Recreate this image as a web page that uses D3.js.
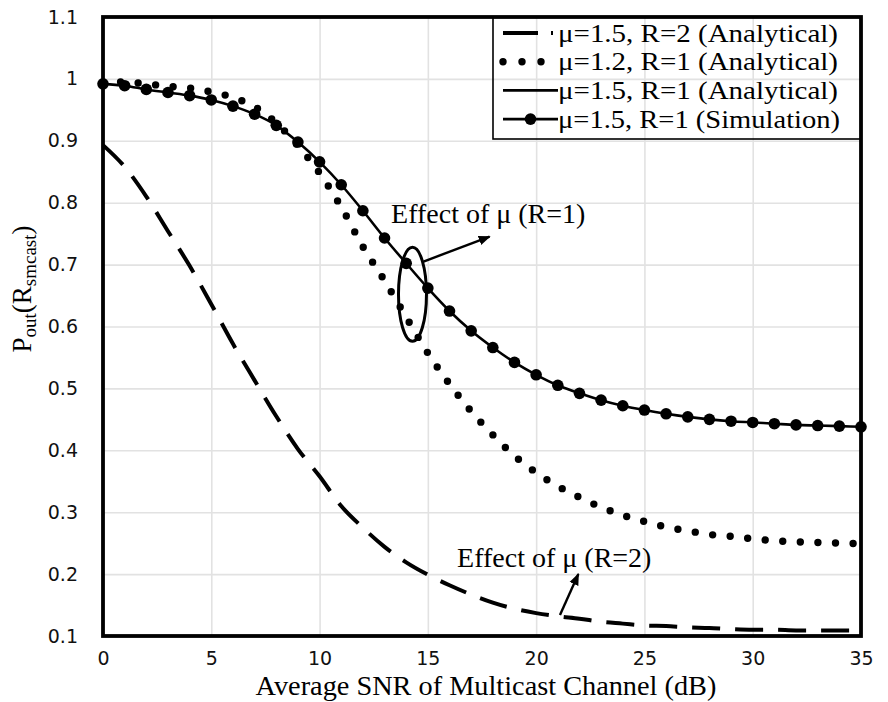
<!DOCTYPE html>
<html>
<head>
<meta charset="utf-8">
<script src="https://cdn.jsdelivr.net/npm/d3@7"></script>
<style>
  html, body { margin: 0; padding: 0; background: #fff; }
  svg { display: block; }
</style>
</head>
<body>
<svg id="chart" width="888" height="702"></svg>
<script>
// Average SNR of the multicast channel (dB)
const snr = d3.range(0, 36);

// μ = 1.5, R = 2 (analytical)
const mu15R2 = [0.893, 0.858, 0.810, 0.754, 0.698, 0.636, 0.572, 0.513, 0.455, 0.402,
                0.358, 0.310, 0.275, 0.244, 0.219, 0.199, 0.182, 0.167, 0.154, 0.144,
                0.137, 0.132, 0.128, 0.123, 0.120, 0.117, 0.116, 0.114, 0.113, 0.111,
                0.110, 0.110, 0.109, 0.109, 0.109, 0.109];

// μ = 1.2, R = 1 (analytical)
const mu12R1 = [0.993, 0.995, 0.992, 0.988, 0.985, 0.979, 0.970, 0.955, 0.929, 0.892,
                0.848, 0.793, 0.729, 0.674, 0.615, 0.557, 0.507, 0.463, 0.425, 0.391,
                0.364, 0.342, 0.324, 0.308, 0.295, 0.285, 0.276, 0.270, 0.264, 0.261,
                0.257, 0.254, 0.252, 0.251, 0.250, 0.249];

// μ = 1.5, R = 1 (analytical)
const mu15R1 = [0.992, 0.989, 0.983, 0.978, 0.973, 0.966, 0.956, 0.943, 0.925, 0.898,
                0.866, 0.829, 0.787, 0.743, 0.702, 0.662, 0.625, 0.593, 0.566, 0.542,
                0.522, 0.505, 0.492, 0.481, 0.472, 0.465, 0.459, 0.454, 0.450, 0.447,
                0.445, 0.443, 0.441, 0.440, 0.439, 0.438];

// μ = 1.5, R = 1 (simulation)
const mu15R1Sim = [0.992, 0.989, 0.983, 0.978, 0.973, 0.966, 0.956, 0.943, 0.925, 0.898,
                   0.866, 0.829, 0.787, 0.743, 0.702, 0.662, 0.625, 0.593, 0.566, 0.542,
                   0.522, 0.505, 0.492, 0.481, 0.472, 0.465, 0.459, 0.454, 0.450, 0.447,
                   0.445, 0.443, 0.441, 0.440, 0.439, 0.438];

const xTicks = [0, 5, 10, 15, 20, 25, 30, 35];
const yTicks = [0.1, 0.2, 0.3, 0.4, 0.5, 0.6, 0.7, 0.8, 0.9, 1.0, 1.1];

const legendLabels = [
  "μ=1.5, R=2 (Analytical)",
  "μ=1.2, R=1 (Analytical)",
  "μ=1.5, R=1 (Analytical)",
  "μ=1.5, R=1 (Simulation)"
];

const xTitle = "Average SNR of Multicast Channel (dB)";
const noteR1 = "Effect of μ (R=1)";
const noteR2 = "Effect of μ (R=2)";

// ---- layout ----
const plot = { left: 103, right: 861, top: 17, bottom: 636 };
const serif = "'Liberation Serif', 'Times New Roman', serif";
const sans = "'DejaVu Sans', Verdana, sans-serif";

const svg = d3.select("#chart");

const x = d3.scaleLinear().domain([0, 35]).range([plot.left, plot.right]);
const y = d3.scaleLinear().domain([0.1, 1.1]).range([plot.bottom, plot.top]);

// arrowhead
svg.append("defs").append("marker")
  .attr("id", "arrow")
  .attr("viewBox", "0 0 10 10")
  .attr("refX", 9).attr("refY", 5)
  .attr("markerWidth", 5).attr("markerHeight", 5)
  .attr("markerUnits", "strokeWidth")
  .attr("orient", "auto")
  .append("path").attr("d", "M0,1 L10,5 L0,9 Z").attr("fill", "#000");

// ---- gridlines ----
const grid = svg.append("g").attr("class", "grid");
grid.append("g")
  .attr("transform", `translate(0,${plot.bottom})`)
  .call(d3.axisBottom(x).tickValues(xTicks).tickSize(-(plot.bottom - plot.top)).tickFormat(""))
  .call(g => g.select(".domain").remove())
  .call(g => g.selectAll("line").attr("stroke", "#e2e2e2").attr("stroke-width", 1.6));
grid.append("g")
  .attr("transform", `translate(${plot.left},0)`)
  .call(d3.axisLeft(y).tickValues(yTicks).tickSize(-(plot.right - plot.left)).tickFormat(""))
  .call(g => g.select(".domain").remove())
  .call(g => g.selectAll("line").attr("stroke", "#e2e2e2").attr("stroke-width", 1.6));

// ---- tick labels ----
svg.append("g")
  .attr("transform", `translate(0,${plot.bottom})`)
  .call(d3.axisBottom(x).tickValues(xTicks).tickSize(0).tickPadding(16).tickFormat(d3.format("d")))
  .call(g => g.select(".domain").remove())
  .call(g => g.selectAll("text").attr("font-family", sans).attr("font-size", 19).attr("fill", "#111"));

svg.append("g")
  .attr("transform", `translate(${plot.left},0)`)
  .call(d3.axisLeft(y).tickValues(yTicks).tickSize(0).tickPadding(25).tickFormat(d => String(+d.toFixed(1))))
  .call(g => g.select(".domain").remove())
  .call(g => g.selectAll("text").attr("font-family", sans).attr("font-size", 19).attr("fill", "#111"));

// ---- series ----
const line = vals => d3.line()
  .x((d, i) => x(snr[i]))
  .y(d => y(d))
  .curve(d3.curveMonotoneX)(vals);

const series = svg.append("g");

series.append("path")
  .attr("d", line(mu15R2))
  .attr("fill", "none").attr("stroke", "#000")
  .attr("stroke-width", 4).attr("stroke-dasharray", "28,15");

series.append("path")
  .attr("d", line(mu12R1))
  .attr("fill", "none").attr("stroke", "#000")
  .attr("stroke-width", 7.4).attr("stroke-linecap", "round")
  .attr("stroke-dasharray", "0,17.6");

series.append("path")
  .attr("d", line(mu15R1))
  .attr("fill", "none").attr("stroke", "#000").attr("stroke-width", 2.6);

series.selectAll("circle.sim")
  .data(mu15R1Sim)
  .join("circle")
  .attr("class", "sim")
  .attr("cx", (d, i) => x(snr[i]))
  .attr("cy", d => y(d))
  .attr("r", 5.8)
  .attr("fill", "#000");

// ---- plot frame ----
svg.append("rect")
  .attr("x", plot.left).attr("y", plot.top)
  .attr("width", plot.right - plot.left).attr("height", plot.bottom - plot.top)
  .attr("fill", "none").attr("stroke", "#000").attr("stroke-width", 3.8);

// ---- annotations ----
const ann = svg.append("g");
// μ effect at R = 1: ellipse around the two curves near 14 dB
ann.append("ellipse")
  .attr("cx", x(14.29)).attr("cy", y(0.652))
  .attr("rx", 14).attr("ry", 47)
  .attr("fill", "none").attr("stroke", "#000").attr("stroke-width", 3);
ann.append("line")
  .attr("x1", x(14.8)).attr("y1", y(0.705))
  .attr("x2", x(17.85)).attr("y2", y(0.745))
  .attr("stroke", "#000").attr("stroke-width", 2.4)
  .attr("marker-end", "url(#arrow)");
ann.append("text")
  .attr("x", x(13.3)).attr("y", y(0.768))
  .attr("font-family", serif).attr("font-size", 28)
  .text(noteR1);

// μ effect at R = 2
ann.append("line")
  .attr("x1", x(21.1)).attr("y1", y(0.134))
  .attr("x2", x(21.95)).attr("y2", y(0.2))
  .attr("stroke", "#000").attr("stroke-width", 2.4)
  .attr("marker-end", "url(#arrow)");
ann.append("text")
  .attr("x", x(16.35)).attr("y", y(0.212))
  .attr("font-family", serif).attr("font-size", 28)
  .text(noteR2);

// ---- legend ----
const lg = svg.append("g");
const lgBox = { x0: 493, y0: plot.top, x1: plot.right, y1: 139 };
lg.append("rect")
  .attr("x", lgBox.x0).attr("y", lgBox.y0)
  .attr("width", lgBox.x1 - lgBox.x0).attr("height", lgBox.y1 - lgBox.y0)
  .attr("fill", "none").attr("stroke", "#000").attr("stroke-width", 1.6);

const rowY = i => 33 + i * 28.7;
const sx0 = 503, sx1 = 558;

lg.append("line").attr("x1", sx0).attr("x2", sx1 - 5).attr("y1", rowY(0)).attr("y2", rowY(0))
  .attr("stroke", "#000").attr("stroke-width", 4).attr("stroke-dasharray", "35,13");
lg.append("line").attr("x1", sx0).attr("x2", sx1 - 12).attr("y1", rowY(1)).attr("y2", rowY(1))
  .attr("stroke", "#000").attr("stroke-width", 7.4).attr("stroke-linecap", "round")
  .attr("stroke-dasharray", "0,19");
lg.append("line").attr("x1", sx0).attr("x2", sx1).attr("y1", rowY(2)).attr("y2", rowY(2))
  .attr("stroke", "#000").attr("stroke-width", 2.6);
lg.append("line").attr("x1", sx0).attr("x2", sx1).attr("y1", rowY(3)).attr("y2", rowY(3))
  .attr("stroke", "#000").attr("stroke-width", 2.6);
lg.append("circle").attr("cx", (sx0 + sx1) / 2).attr("cy", rowY(3)).attr("r", 5.8).attr("fill", "#000");

// legend labels: slightly condensed height, widened to the box width
lg.selectAll("text.lab")
  .data(legendLabels)
  .join("text")
  .attr("class", "lab")
  .attr("x", 558)
  .attr("y", (d, i) => rowY(i) + 8.5)
  .attr("font-family", serif).attr("font-size", 25)
  .attr("textLength", (d, i) => i === 3 ? 282 : 280)
  .attr("lengthAdjust", "spacingAndGlyphs")
  .text(d => d);

// ---- axis titles ----
svg.append("text")
  .attr("x", (plot.left + plot.right) / 2 + 4).attr("y", 695)
  .attr("text-anchor", "middle")
  .attr("font-family", serif).attr("font-size", 28.3)
  .text(xTitle);

const yt = svg.append("text")
  .attr("transform", "translate(31,289) rotate(-90)")
  .attr("text-anchor", "middle")
  .attr("font-family", serif).attr("font-size", 27);
yt.append("tspan").text("P");
yt.append("tspan").attr("font-size", 19).attr("dy", 5).text("out");
yt.append("tspan").attr("dy", -5).text("(R");
yt.append("tspan").attr("font-size", 19).attr("dy", 5).text("smcast");
yt.append("tspan").attr("dy", -5).text(")");
</script>
</body>
</html>
